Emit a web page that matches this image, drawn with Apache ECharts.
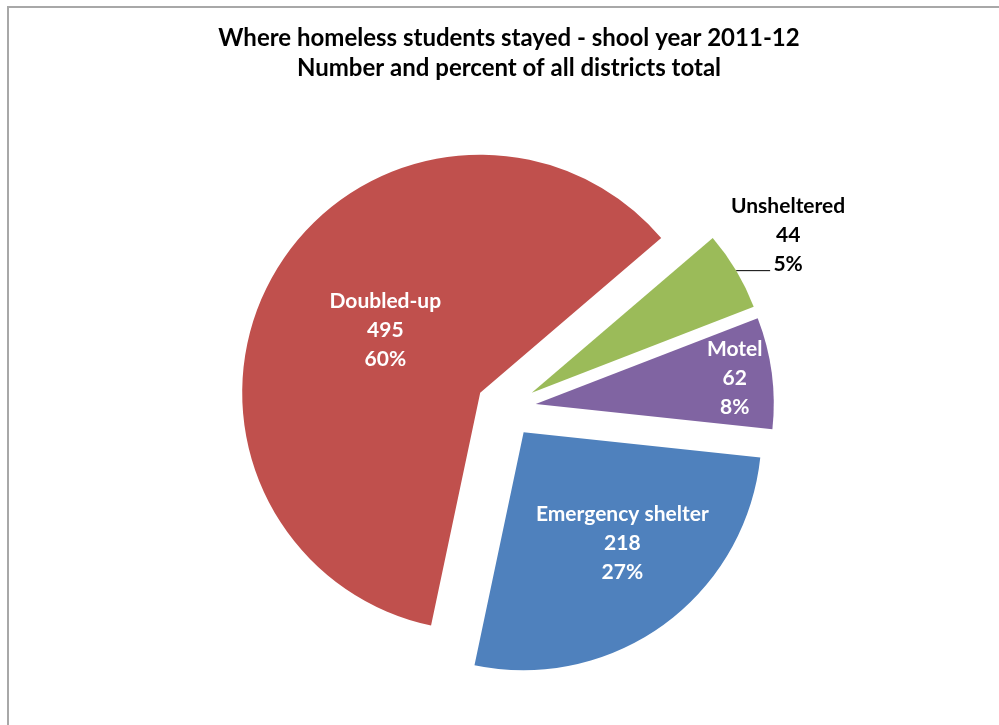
<!DOCTYPE html>
<html><head><meta charset="utf-8">
<script src="https://cdn.jsdelivr.net/npm/echarts@6/dist/echarts.min.js"></script>
<style>html,body{margin:0;padding:0;background:#fff}#c{width:999px;height:725px}</style>
</head><body><div id="c"></div>
<script>
// ---- data ----
const titleLines = ['Where homeless students stayed - shool year 2011-12', 'Number and percent of all districts total'];
const categories = ['Unsheltered', 'Motel', 'Emergency shelter', 'Doubled-up'];
const values = [44, 62, 218, 495];
// ---- style / layout ----
const colors = ['#9BBB59', '#8064A2', '#4F81BD', '#C0504D'];
const labelColors = ['#000000', '#ffffff', '#ffffff', '#ffffff'];
const labelShift = [[13, -35], [78, -10], [27, 12], [10, 0]];
const FONT = 'Lato';

const chart = echarts.init(document.getElementById('c'), null, {renderer: 'canvas'});
chart.setOption({
  animation: false,
  backgroundColor: '#ffffff',
  title: {
    text: titleLines.join('\n'),
    left: 509, top: 23, textAlign: 'center', textVerticalAlign: 'top', padding: 0,
    textStyle: {fontFamily: FONT, fontWeight: 'bold', fontSize: 24, lineHeight: 30, color: '#000'}
  },
  graphic: [{
    type: 'rect', silent: true, z: -1,
    shape: {x: 8, y: 7, width: 1000, height: 730},
    style: {fill: 'none', stroke: '#a8a8a8', lineWidth: 2}
  }],
  series: [{
    type: 'pie',
    center: [506, 408],
    radius: 238,
    startAngle: 40.5,
    clockwise: true,
    selectedMode: 'multiple',
    selectedOffset: 30,
    avoidLabelOverlap: false,
    percentPrecision: 0,
    emphasis: {disabled: true},
    select: {itemStyle: {borderWidth: 0}},
    label: {
      formatter: '{b}\n{c}\n{d}%',
      fontFamily: FONT, fontWeight: 'bold', fontSize: 21, lineHeight: 29
    },
    labelLine: {length: 0, length2: 34, lineStyle: {color: '#000', width: 1}},
    labelLayout: function (p) {
      const s = labelShift[p.dataIndex];
      const o = {dx: s[0], dy: s[1]};
      if (p.dataIndex === 0) {
        o.align = 'center';
        o.labelLinePoints = p.labelLinePoints;
      }
      return o;
    },
    data: categories.map(function (n, i) {
      return {
        name: n, value: values[i], selected: true,
        itemStyle: {color: colors[i]},
        label: {position: i === 0 ? 'outside' : 'inside', color: labelColors[i]},
        labelLine: {show: i === 0}
      };
    })
  }]
});
</script>
</body></html>
